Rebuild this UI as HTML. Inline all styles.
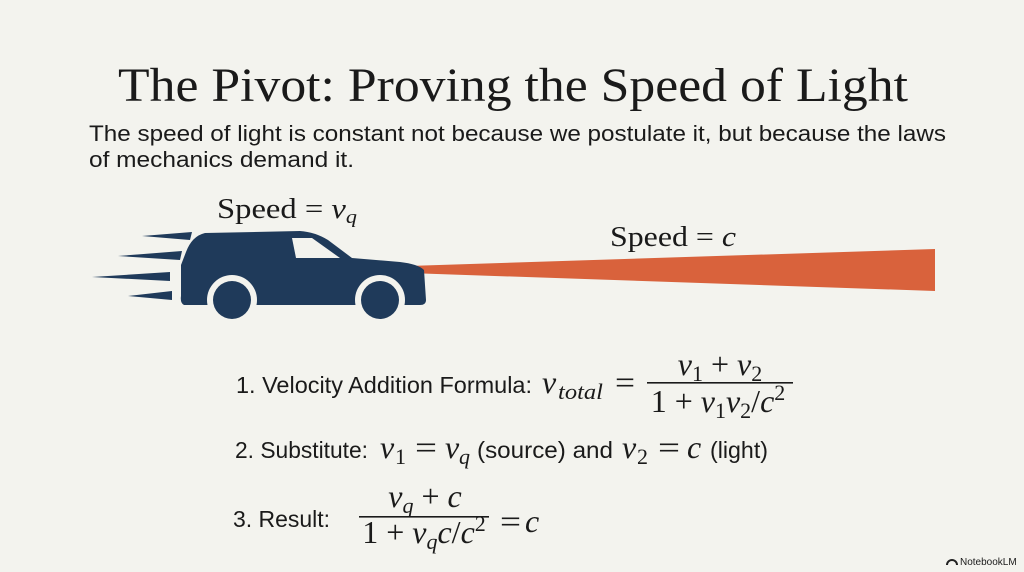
<!DOCTYPE html>
<html><head><meta charset="utf-8"><style>
html,body{margin:0;padding:0;background:#f3f3ee;}
svg{display:block}
.s{font-family:"Liberation Sans",sans-serif;fill:#1a1a1a}
.m{font-family:"Liberation Serif",serif;fill:#1a1a1a}
.i{font-style:italic}
</style></head><body>
<svg width="1024" height="572" viewBox="0 0 1024 572" xmlns="http://www.w3.org/2000/svg">
<rect width="1024" height="572" fill="#f3f3ee"/>
<text x="513" y="101" text-anchor="middle" class="m" font-size="48" textLength="790" lengthAdjust="spacingAndGlyphs">The Pivot: Proving the Speed of Light</text>
<text x="89" y="141" class="s" font-size="22" textLength="857" lengthAdjust="spacingAndGlyphs">The speed of light is constant not because we postulate it, but because the laws</text>
<text x="89" y="167" class="s" font-size="22" textLength="265" lengthAdjust="spacingAndGlyphs">of mechanics demand it.</text>

<text x="217" y="218" class="m" font-size="28" textLength="140" lengthAdjust="spacingAndGlyphs">Speed = <tspan class="i">v</tspan><tspan class="i" font-size="19" dy="5">q</tspan></text>
<text x="610" y="246" class="m" font-size="28" textLength="126" lengthAdjust="spacingAndGlyphs">Speed = <tspan class="i">c</tspan></text>

<!-- beam -->
<polygon points="408,266 935,249 935,291 408,273" fill="#d9623c"/>

<!-- speed lines -->
<g fill="#1f3a5a">
<polygon points="142,236 192,232 190,240"/>
<polygon points="118,256 182,251 180,260"/>
<polygon points="92,277 170,272 170,281"/>
<polygon points="128,296 172,291 172,300"/>
</g>
<!-- car -->
<path d="M186,252 Q192,236 205,233 L300,231 Q315,232 328,240 L352,258 L400,262 Q418,264 424,270 L426,300 Q426,305 420,305 L184,305 Q180,303 181,296 L181,265 Z" fill="#1f3a5a"/>
<polygon points="292,238 312,238 340,258 296,258" fill="#f3f3ee"/>
<circle cx="232" cy="300" r="25" fill="#f3f3ee"/>
<circle cx="380" cy="300" r="25" fill="#f3f3ee"/>
<circle cx="232" cy="300" r="19" fill="#1f3a5a"/>
<circle cx="380" cy="300" r="19" fill="#1f3a5a"/>

<!-- line 1 -->
<text x="236" y="393" class="s" font-size="23" textLength="296" lengthAdjust="spacingAndGlyphs">1. Velocity Addition Formula:</text>
<text x="542" y="393" class="m i" font-size="32">v</text>
<text x="558" y="399" class="m i" font-size="22" textLength="45" lengthAdjust="spacingAndGlyphs">total</text>
<text x="615" y="393" class="m" font-size="32" textLength="20" lengthAdjust="spacingAndGlyphs">=</text>
<text x="720" y="375" text-anchor="middle" class="m" font-size="32"><tspan class="i">v</tspan><tspan font-size="22" dy="6">1</tspan><tspan dy="-6"> + </tspan><tspan class="i">v</tspan><tspan font-size="22" dy="6">2</tspan></text>
<rect x="647" y="382" width="146" height="1.6" fill="#1a1a1a"/>
<text x="718" y="412" text-anchor="middle" class="m" font-size="32">1 + <tspan class="i">v</tspan><tspan font-size="22" dy="6">1</tspan><tspan class="i" dy="-6">v</tspan><tspan font-size="22" dy="6">2</tspan><tspan dy="-6">/</tspan><tspan class="i">c</tspan><tspan font-size="22" dy="-12">2</tspan></text>

<!-- line 2 -->
<text x="235" y="458" class="s" font-size="23" textLength="133" lengthAdjust="spacingAndGlyphs">2. Substitute:</text>
<text x="380" y="458" class="m i" font-size="32">v</text>
<text x="395" y="464" class="m" font-size="22">1</text>
<text x="415" y="458" class="m" font-size="32" textLength="22" lengthAdjust="spacingAndGlyphs">=</text>
<text x="445" y="458" class="m i" font-size="32">v</text>
<text x="459" y="464" class="m i" font-size="22">q</text>
<text x="477" y="458" class="s" font-size="23" textLength="136" lengthAdjust="spacingAndGlyphs">(source) and</text>
<text x="622" y="458" class="m i" font-size="32">v</text>
<text x="637" y="464" class="m" font-size="22">2</text>
<text x="658" y="458" class="m" font-size="32" textLength="22" lengthAdjust="spacingAndGlyphs">=</text>
<text x="687" y="458" class="m i" font-size="32">c</text>
<text x="710" y="458" class="s" font-size="23" textLength="58" lengthAdjust="spacingAndGlyphs">(light)</text>

<!-- line 3 -->
<text x="233" y="527" class="s" font-size="23" textLength="97" lengthAdjust="spacingAndGlyphs">3. Result:</text>
<text x="425" y="507" text-anchor="middle" class="m" font-size="32"><tspan class="i">v</tspan><tspan class="i" font-size="22" dy="6">q</tspan><tspan dy="-6"> + </tspan><tspan class="i">c</tspan></text>
<rect x="359" y="516" width="130" height="1.6" fill="#1a1a1a"/>
<text x="424" y="543" text-anchor="middle" class="m" font-size="32">1 + <tspan class="i">v</tspan><tspan class="i" font-size="22" dy="6">q</tspan><tspan class="i" dy="-6">c</tspan>/<tspan class="i">c</tspan><tspan font-size="22" dy="-12">2</tspan></text>
<text x="500" y="532" class="m" font-size="32" textLength="21" lengthAdjust="spacingAndGlyphs">=</text>
<text x="525" y="532" class="m i" font-size="32">c</text>

<!-- logo -->
<g fill="#222">
<path d="M946,565 a6,6 0 0 1 12,0 h-2 a4,4 0 0 0 -8,0z"/>
</g>
<text x="960" y="565" class="s" font-size="10" fill="#222">NotebookLM</text>
</svg>
</body></html>
